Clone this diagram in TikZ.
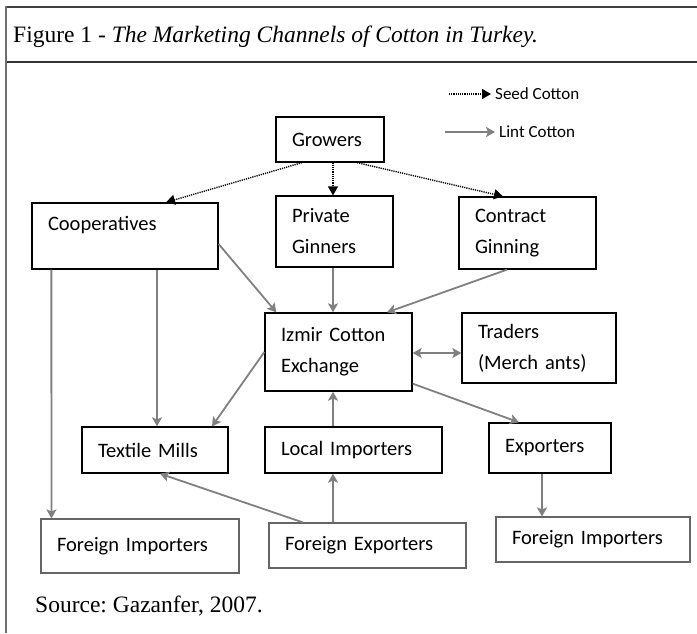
\documentclass[tikz,border=0pt]{standalone}
\usepackage{fontspec}
\setmainfont{Liberation Serif}
\newfontfamily\carl{Carlito}
\usetikzlibrary{arrows.meta,calc}
\definecolor{lintgray}{RGB}{128,128,128}
\definecolor{framegray}{RGB}{110,110,110}
\frenchspacing
\tikzset{
  boxnode/.style={draw=black, line width=1.3pt, rectangle, inner xsep=16pt, inner ysep=0pt,
    align=left, font=\carl\fontsize{20.5}{31}\selectfont},
  boxgray/.style={boxnode, draw=black!60, line width=1.1pt},
  seedline/.style={black, line width=1.4pt, dash pattern=on 1.2pt off 1pt,
    -{Triangle[width=10pt,length=9pt]}},
  lintline/.style={lintgray, line width=1.8pt, -{Stealth[width=10pt,length=9pt,inset=2pt]}},
  lintboth/.style={lintgray, line width=1.8pt, {Stealth[width=10pt,length=9pt,inset=2pt]}-{Stealth[width=10pt,length=9pt,inset=2pt]}},
  legtxt/.style={font=\carl\fontsize{17}{20}\selectfont, inner xsep=4pt, inner ysep=0pt},
  serif/.style={font=\fontsize{23.5}{28}\selectfont, inner sep=0pt},
  framel/.style={framegray, line width=1.5pt}
}
\begin{document}
\begin{tikzpicture}[x=1pt,y=-1pt]
\useasboundingbox (0,0) rectangle (697,633);
% frame
\draw[framel, black!75] (5,7) -- (697,7);
\draw[framel, black!80] (5,62) -- (697,62);
\draw[framel] (6,6.3) -- (6,633);
% title and source
\node[serif, anchor=base west] (title) at (13,42) {Figure 1 - \textit{The Marketing Channels of Cotton in Turkey.}};
\node[serif, anchor=base west] (src) at (35,612) {Source: Gazanfer, 2007.};
% legend
\coordinate (seed0) at (449,94);
\node[legtxt, anchor=west] (seedlab) at (491,94) {Seed Cotton};
\draw[seedline] (seed0) -- (seedlab.west);
\coordinate (lint0) at (445,132);
\node[legtxt, anchor=west] (lintlab) at (495,132) {Lint Cotton};
\draw[lintline] (lint0) -- (lintlab.west);
% boxes
\node[boxnode, minimum height=45pt, text width=76pt] (grow) at (330,139.5) {Growers};
\node[boxnode, minimum height=66pt, text width=154pt, text depth=25pt] (coop) at (125,236) {Cooperatives};
\node[boxnode, minimum height=71pt, text width=85pt] (priv) at (334.5,231.5) {Private\\Ginners};
\node[boxnode, minimum height=72pt, text width=105pt] (cont) at (527.5,233) {Contract\\Ginning};
\node[boxnode, minimum height=78pt, text width=115pt] (izmir) at (338.5,352) {Izmir Cotton\\Exchange};
\node[boxnode, minimum height=70pt, text width=122pt] (trad) at (539,348) {Traders\\(Merch ants)};
\node[boxnode, minimum height=46pt, text width=114pt] (tex) at (155,450) {Textile Mills};
\node[boxnode, minimum height=46pt, text width=145pt] (loc) at (353.5,450) {Local Importers};
\node[boxnode, minimum height=50pt, text width=90pt] (exp) at (550,448) {Exporters};
\node[boxgray, minimum height=54pt, text width=166pt] (fil) at (140,546) {Foreign Importers};
\node[boxgray, minimum height=45pt, text width=165pt] (fex) at (367.5,545.5) {Foreign Exporters};
\node[boxgray, minimum height=45pt, text width=162pt] (fir) at (593,539.5) {Foreign Importers};
% seed cotton
\draw[seedline] ($(grow.south)+(-28,0)$) -- ($(coop.north)+(41,0)$);
\draw[seedline] ($(grow.south)+(3,0)$) -- ($(priv.north)+(-1.5,0)$);
\draw[seedline] ($(grow.south)+(27,0)$) -- ($(cont.north)+(-24.5,0)$);
% lint cotton
\draw[lintline] ($(coop.east)+(0,8)$) -- ($(izmir.north west)+(12,0)$);
\draw[lintline] ($(priv.south)+(-1.5,0)$) -- ($(izmir.north)+(-5.5,0)$);
\draw[lintline] ($(cont.south)+(-20.5,0)$) -- ($(izmir.north)+(48.5,0)$);
\draw[lintboth] ($(izmir.east)+(0,1)$) -- ($(trad.west)+(0,5)$);
\draw[lintline] (izmir.west) -- ($(tex.north)+(57,0)$);
\draw[lintline] ($(coop.south)+(32,0)$) -- ($(tex.north)+(2,0)$);
\draw[lintline] ($(coop.south west)+(20,0)$) -- ($(fil.north west)+(11,0)$);
\draw[lintline] ($(izmir.south east)+(0,-8)$) -- ($(exp.north)+(-31,0)$);
\draw[lintline] ($(loc.north)+(-20.5,0)$) -- ($(izmir.south)+(-5.5,0)$);
\draw[lintline] ($(fex.north)+(-34.5,0)$) -- ($(loc.south)+(-20.5,0)$);
\draw[lintline] ($(fex.north)+(-64.5,0)$) -- ($(tex.south)+(5,0)$);
\draw[lintline] ($(exp.south)+(-8,0)$) -- ($(fir.north)+(-51,0)$);
\end{tikzpicture}
\end{document}
